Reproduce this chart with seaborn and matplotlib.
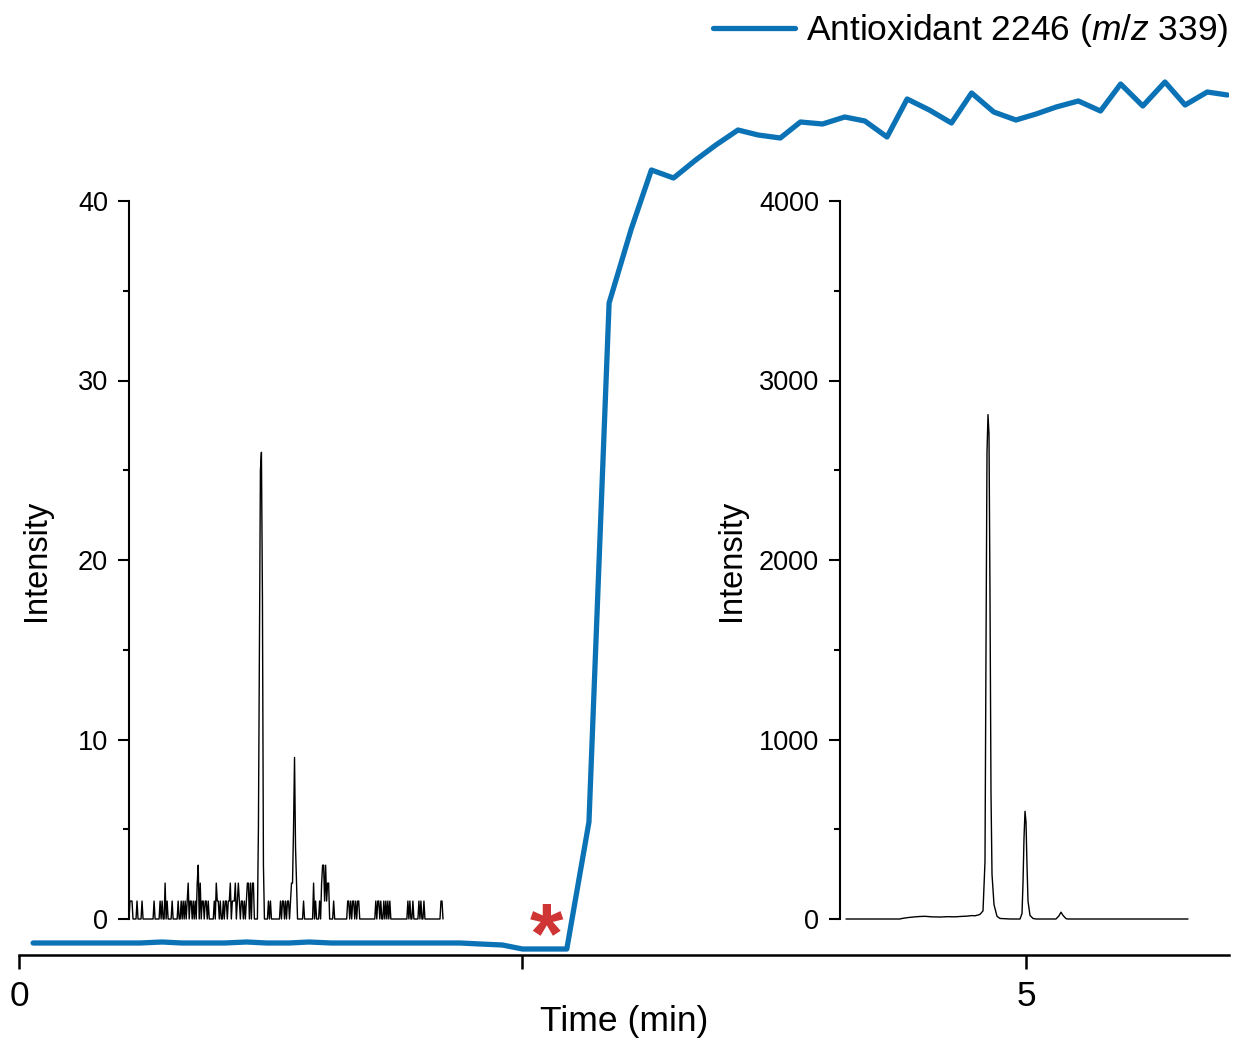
import numpy as np
import pandas as pd
import matplotlib
matplotlib.use("Agg")
import matplotlib.pyplot as plt
import seaborn as sns
from matplotlib.ticker import MultipleLocator

sns.set_theme(style="white")
plt.rcParams["font.family"] = ["Liberation Sans", "DejaVu Sans"]
plt.rcParams["text.color"] = "black"
plt.rcParams["mathtext.fontset"] = "custom"
plt.rcParams["mathtext.rm"] = "Liberation Sans"
plt.rcParams["mathtext.it"] = "Liberation Sans:italic"

BLUE = "#0b72b5"

# main trace: Antioxidant 2246 (m/z 339)
time_min = [0.07, 0.17, 0.28, 0.39, 0.49, 0.60, 0.71, 0.81, 0.91, 1.02, 1.13, 1.23,
            1.34, 1.44, 1.55, 1.66, 1.76, 1.87, 1.98, 2.08, 2.19, 2.29, 2.40, 2.50,
            2.61, 2.72, 2.83, 2.93, 3.04, 3.14, 3.25, 3.36, 3.46, 3.57, 3.67, 3.78,
            3.88, 3.99, 4.10, 4.20, 4.31, 4.41, 4.52, 4.63, 4.73, 4.84, 4.95, 5.05,
            5.15, 5.26, 5.37, 5.47, 5.58, 5.69, 5.79, 5.90, 6.00]
intensity = [0.60, 0.60, 0.60, 0.60, 0.60, 0.60, 0.65, 0.60, 0.60, 0.60, 0.65, 0.60,
             0.60, 0.65, 0.60, 0.60, 0.60, 0.60, 0.60, 0.60, 0.60, 0.55, 0.50, 0.30,
             0.30, 0.30, 6.65, 32.6, 36.3, 39.25, 38.85, 39.75, 40.5, 41.25, 41.0, 40.85,
             41.65, 41.55, 41.9, 41.7, 40.9, 42.8, 42.25, 41.6, 43.1, 42.15, 41.75, 42.05,
             42.4, 42.7, 42.2, 43.55, 42.45, 43.65, 42.5, 43.15, 43.0]

# left inset: noisy chromatogram (scan index, counts)
n_scans1 = 314
ones = [1, 2, 3, 8, 13, 25, 31, 33, 38, 43, 49, 52, 54, 56, 58, 61, 62, 64, 66, 73, 74,
        76, 77, 79, 85, 88, 89, 91, 94, 96, 97, 99, 100, 103, 104, 105, 108, 110, 112,
        113, 115, 117, 139, 141, 151, 153, 154, 156, 158, 159, 161, 174, 186, 190, 195,
        197, 204, 218, 219, 221, 223, 224, 226, 228, 229, 246, 248, 249, 251, 254, 256,
        258, 260, 278, 280, 283, 289, 291, 294, 311, 312]
twos = [36, 59, 68, 71, 87, 101, 106, 109, 118, 119, 121, 123, 124, 163, 167, 184,
        192, 198, 199]
threes = [69, 193, 194, 196]
peak_scans = [129, 130, 131, 132, 133, 134, 162, 164, 165, 166]
peak_counts = [5, 15, 25, 26, 18, 3, 2, 5, 9, 4]

# right inset: chromatogram vertices (scan, intensity)
scan2 = [6, 40, 60, 62, 68, 75, 80, 85, 92, 100, 108, 115, 120, 127, 132, 135, 138,
         140, 143, 145, 146, 147, 148, 149, 150, 151, 152, 154, 157, 160, 170, 180,
         182, 183, 184, 185, 186, 187, 188, 190, 193, 196, 205, 216, 219, 221, 223,
         226, 228, 260, 300, 348]
counts2 = [0, 0, 0, 3, 8, 12, 14, 15, 12, 11, 13, 12, 14, 16, 19, 18, 22,
           26, 45, 320, 1500, 2600, 2810, 2700, 1800, 700, 250, 80, 15, 3, 0, 0,
           30, 200, 450, 600, 540, 300, 100, 20, 3, 0, 0, 0, 18, 38, 20,
           2, 0, 0, 0, 0]

fig = plt.figure(figsize=(12.37, 10.4), dpi=100)
W, H = 1237, 1040

# main axes
ax = fig.add_axes([19 / W, 85 / H, 1210 / W, 955 / H])
ax.patch.set_alpha(0)
main = pd.DataFrame({"t": time_min, "i": intensity})
sns.lineplot(data=main, x="t", y="i", ax=ax, color=BLUE, lw=3.8,
             estimator=None, sort=False, label="Antioxidant 2246 ($\\mathit{m/z}$ 339)")
ax.set_xlim(0, 6.008)
ax.set_ylim(0, 47.75)
for s in ["left", "right", "top"]:
    ax.spines[s].set_visible(False)
ax.spines["bottom"].set_color("black")
ax.spines["bottom"].set_linewidth(1.8)
ax.set_yticks([])
ax.set_xticks([0, 2.5, 5])
ax.set_xticklabels(["0", "", "5"])
ax.tick_params(axis="x", direction="out", length=10, width=1.8, pad=8,
               labelsize=25.5, colors="black", bottom=True)
ax.set_xlabel("Time (min)", fontsize=25.5, labelpad=-6, color="black")
ax.set_ylabel("")
ax.text(2.62, 0.75, "*", ha="center", va="center", fontsize=62, fontweight="bold",
        color="#d03535")
leg = ax.legend(loc="upper right", bbox_to_anchor=(1.0, 0.997), bbox_transform=fig.transFigure,
                frameon=False, fontsize=25.5, handlelength=2.3, handletextpad=0.3,
                borderaxespad=0.1, borderpad=0.15, labelcolor="black")

def style_inset(a, top, major, minor):
    a.patch.set_alpha(0)
    for s in ["right", "top", "bottom"]:
        a.spines[s].set_visible(False)
    a.spines["left"].set_color("black")
    a.spines["left"].set_linewidth(1.5)
    a.set_ylim(0, top)
    a.set_xticks([])
    a.yaxis.set_major_locator(MultipleLocator(major))
    a.yaxis.set_minor_locator(MultipleLocator(minor))
    a.tick_params(axis="y", which="major", direction="out", length=8, width=1.5,
                  labelsize=19.5, colors="black", left=True, pad=7)
    a.tick_params(axis="y", which="minor", direction="out", length=4.5, width=1.5,
                  left=True, colors="black")
    a.set_xlabel("")
    a.set_ylabel("Intensity", fontsize=23.5, color="black")

# left inset
vals1 = np.zeros(n_scans1)
vals1[ones] = 1
vals1[twos] = 2
vals1[threes] = 3
vals1[peak_scans] = peak_counts
ax1 = fig.add_axes([129 / W, 121 / H, 314 / W, 718 / H])
sns.lineplot(x=np.arange(n_scans1), y=vals1, ax=ax1, color="black", lw=1.0,
             estimator=None, clip_on=False)
ax1.set_xlim(0, 313)
style_inset(ax1, 40, 10, 5)
ax1.yaxis.set_label_coords(-0.245, 0.5)

# right inset
ax2 = fig.add_axes([840 / W, 121 / H, 348 / W, 718 / H])
sns.lineplot(x=scan2, y=counts2, ax=ax2, color="black", lw=1.0,
             estimator=None, clip_on=False)
ax2.set_xlim(0, 348)
style_inset(ax2, 4000, 1000, 500)
ax2.yaxis.set_label_coords(-0.267, 0.5)

fig.savefig("out.png", dpi=100)
